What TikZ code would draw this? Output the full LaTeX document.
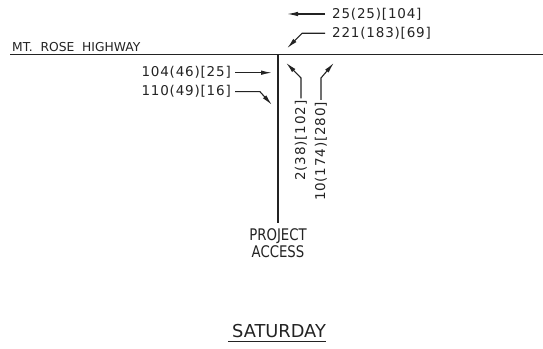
\documentclass[tikz,border=0pt]{standalone}
\usepackage{fontspec}
\setmainfont{DejaVu Sans}
\newfontfamily\numfont{DejaVu Sans}[LetterSpace=6]
\newfontfamily\narrowfont{DejaVu Sans}[FakeStretch=0.83]
\usetikzlibrary{arrows.meta,positioning}
\definecolor{inkGray}{RGB}{35,35,35}
\tikzset{
  road/.style={line width=1.3pt, draw=inkGray},
  move/.style={-{Latex[length=11pt,width=4.5pt]}, line width=1.1pt, draw=inkGray},
  volume/.style={font=\numfont\fontsize{13.5}{15}\selectfont, text=inkGray, inner sep=2pt},
  street/.style={font=\fontsize{12.3}{14}\selectfont, text=inkGray, inner sep=0pt, anchor=south west},
  access/.style={font=\narrowfont\fontsize{16}{17}\selectfont, text=inkGray, align=center, inner sep=1pt},
  daytitle/.style={font=\fontsize{17.8}{20}\selectfont, text=inkGray, inner sep=0pt}
}

\begin{document}
\begin{tikzpicture}[x=1pt, y=1pt]
  \useasboundingbox (0,0) rectangle (543,348);

  % roads
  \coordinate (hwW) at (10,293.5);
  \coordinate (hwE) at (543,293.5);
  \coordinate (acN) at (278,293.5);
  \coordinate (acS) at (278,125);
  \draw[road] (hwW) -- (hwE);
  \draw[road] (acN) -- (acS);
  \node[street] (hwy) at (12,296) {MT.~~ROSE~~HIGHWAY};
  \node[access, below=4pt of acS] (acc) {PROJECT\\ACCESS};

  % turning volumes
  \node[volume, anchor=west] (wbT) at (330,334) {25(25)[104]};
  \node[volume, anchor=west] (wbL) at (330,314.7) {221(183)[69]};
  \node[volume, anchor=east] (ebT) at (233,275.3) {104(46)[25]};
  \node[volume, anchor=east] (ebR) at (233,256.3) {110(49)[16]};
  \node[volume, rotate=90, anchor=east] (nbL) at (301,249.5) {2(38)[102]};
  \node[volume, rotate=90, anchor=east] (nbR) at (321,248) {10(174)[280]};

  \coordinate (tipWT) at (287,334);
  \coordinate (tipWL) at (287,299.7);
  \coordinate (tipET) at (272,275.3);
  \coordinate (tipER) at (272,243);
  \coordinate (tipNL) at (286,285.3);
  \coordinate (tipNR) at (334,285.3);

  \draw[move] ([xshift=-5pt]wbT.west) -- (tipWT);
  \draw[move] ([xshift=-5pt]wbL.west) -- ++(-23,0) -- (tipWL);
  \draw[move] ([xshift=2pt]ebT.east) -- (tipET);
  \draw[move] ([xshift=2pt]ebR.east) -- ++(25,0) -- (tipER);
  \draw[move] (nbL.east) -- ++(0,20.5) -- (tipNL);
  \draw[move] (nbR.east) -- ++(0,22) -- (tipNR);

  % period
  \node[daytitle] (day) at (279,17) {SATURDAY};
  \draw[inkGray, line width=1pt] ([xshift=-4pt,yshift=-4.5pt]day.base west) -- ([yshift=-4.5pt]day.base east);
\end{tikzpicture}
\end{document}
